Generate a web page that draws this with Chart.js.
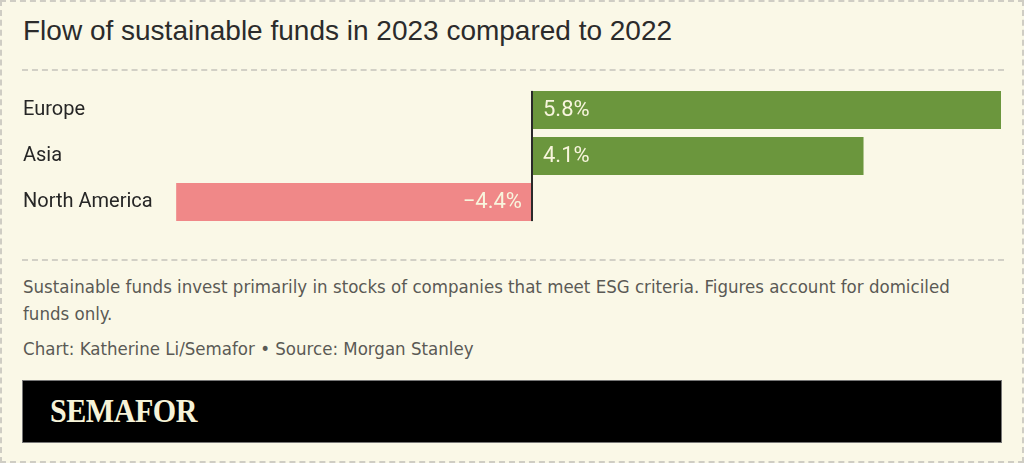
<!DOCTYPE html>
<html>
<head>
<meta charset="utf-8">
<script src="https://cdn.jsdelivr.net/npm/chart.js@4"></script>
<style>
    html, body {
        margin: 0;
        padding: 0;
        background: #FAF8E7;
    }
    #frame {
        position: relative;
        width: 1020px;
        height: 459px;
        border: 2px dashed #cfcdc4;
        background: #FAF8E7;
        overflow: hidden;
    }
    #title {
        position: absolute;
        left: 21px;
        top: 13px;
        font-family: "Liberation Sans", Arial, sans-serif;
        font-size: 28px;
        color: #2b2b2b;
        white-space: nowrap;
    }
    .divider {
        position: absolute;
        left: 20px;
        width: 982px;
        height: 0;
        border-top: 2px dashed #d2d0c6;
    }
    #chartBox {
        position: absolute;
        left: -2px;
        top: 73px;
        width: 1024px;
        height: 162px;
    }
    #note {
        position: absolute;
        left: 21px;
        top: 271px;
        width: 975px;
        font-family: "DejaVu Sans Condensed", "Roboto", sans-serif;
        font-size: 18.5px;
        line-height: 27px;
        color: #5a5a55;
    }
    #source {
        position: absolute;
        left: 21px;
        top: 336px;
        font-family: "DejaVu Sans Condensed", "Roboto", sans-serif;
        font-size: 18.5px;
        color: #5a5a55;
    }
    #banner {
        position: absolute;
        left: 20px;
        top: 378px;
        width: 980px;
        height: 63px;
        background: #000;
        border: 1px solid #777;
        box-sizing: border-box;
    }
    #logo {
        position: absolute;
        left: 27px;
        top: 12px;
        font-family: "Liberation Serif", "DejaVu Serif", serif;
        font-weight: bold;
        font-size: 33px;
        color: #F6F3D8;
        transform: scaleX(0.91);
        transform-origin: left center;
        letter-spacing: -0.5px;
    }
</style>
</head>
<body>
<div id="frame">
    <div id="title">Flow of sustainable funds in 2023 compared to 2022</div>
    <div class="divider" style="top: 67px;"></div>
    <div id="chartBox"><canvas id="chart"></canvas></div>
    <div class="divider" style="top: 257px;"></div>
    <div id="note">Sustainable funds invest primarily in stocks of companies that meet ESG criteria. Figures account for domiciled funds only.</div>
    <div id="source">Chart: Katherine Li/Semafor • Source: Morgan Stanley</div>
    <div id="banner"><div id="logo">SEMAFOR</div></div>
</div>

<script>
const regions = ["Europe", "Asia", "North America"];
const flowValues = [5.8, 4.1, -4.4];
const valueLabels = ["5.8%", "4.1%", "\u22124.4%"];

const GREEN = "#6B963D";
const PINK = "#F08888";

// zero line + the value written inside each bar
const barLabels = {
    id: "barLabels",
    afterDatasetsDraw(chart) {
        const ctx = chart.ctx;
        const meta = chart.getDatasetMeta(0);
        const x0 = chart.scales.x.getPixelForValue(0);
        const first = meta.data[0];
        const last = meta.data[meta.data.length - 1];

        ctx.save();
        ctx.strokeStyle = "#2a2a2a";
        ctx.lineWidth = 2;
        ctx.beginPath();
        ctx.moveTo(x0, first.y - first.height / 2);
        ctx.lineTo(x0, last.y + last.height / 2);
        ctx.stroke();

        ctx.font = "22px Roboto, sans-serif";
        ctx.fillStyle = "#F8F5DD";
        ctx.textBaseline = "middle";
        meta.data.forEach((bar, i) => {
            if (flowValues[i] >= 0) {
                ctx.textAlign = "left";
                ctx.fillText(valueLabels[i], bar.base + 11, bar.y);
            } else {
                ctx.textAlign = "right";
                ctx.fillText(valueLabels[i], bar.base - 10, bar.y);
            }
        });
        ctx.restore();
    }
};

new Chart(document.getElementById("chart"), {
    type: "bar",
    data: {
        labels: regions,
        datasets: [{
            data: flowValues,
            backgroundColor: flowValues.map(v => v >= 0 ? GREEN : PINK),
            borderWidth: 0,
            barPercentage: 0.83,
            categoryPercentage: 1
        }]
    },
    options: {
        indexAxis: "y",
        responsive: true,
        maintainAspectRatio: false,
        animation: false,
        layout: {
            padding: { left: 23, right: 23, top: 0, bottom: 0 }
        },
        plugins: {
            legend: { display: false },
            tooltip: { enabled: false }
        },
        scales: {
            x: {
                display: false,
                min: -4.6,
                max: 5.8
            },
            y: {
                afterFit: scale => { scale.width = 137; },
                border: { display: false },
                grid: { display: false, drawTicks: false },
                ticks: {
                    crossAlign: "far",
                    padding: 0,
                    color: "#262626",
                    font: { family: "Roboto", size: 20 }
                }
            }
        }
    },
    plugins: [barLabels]
});
</script>
</body>
</html>
